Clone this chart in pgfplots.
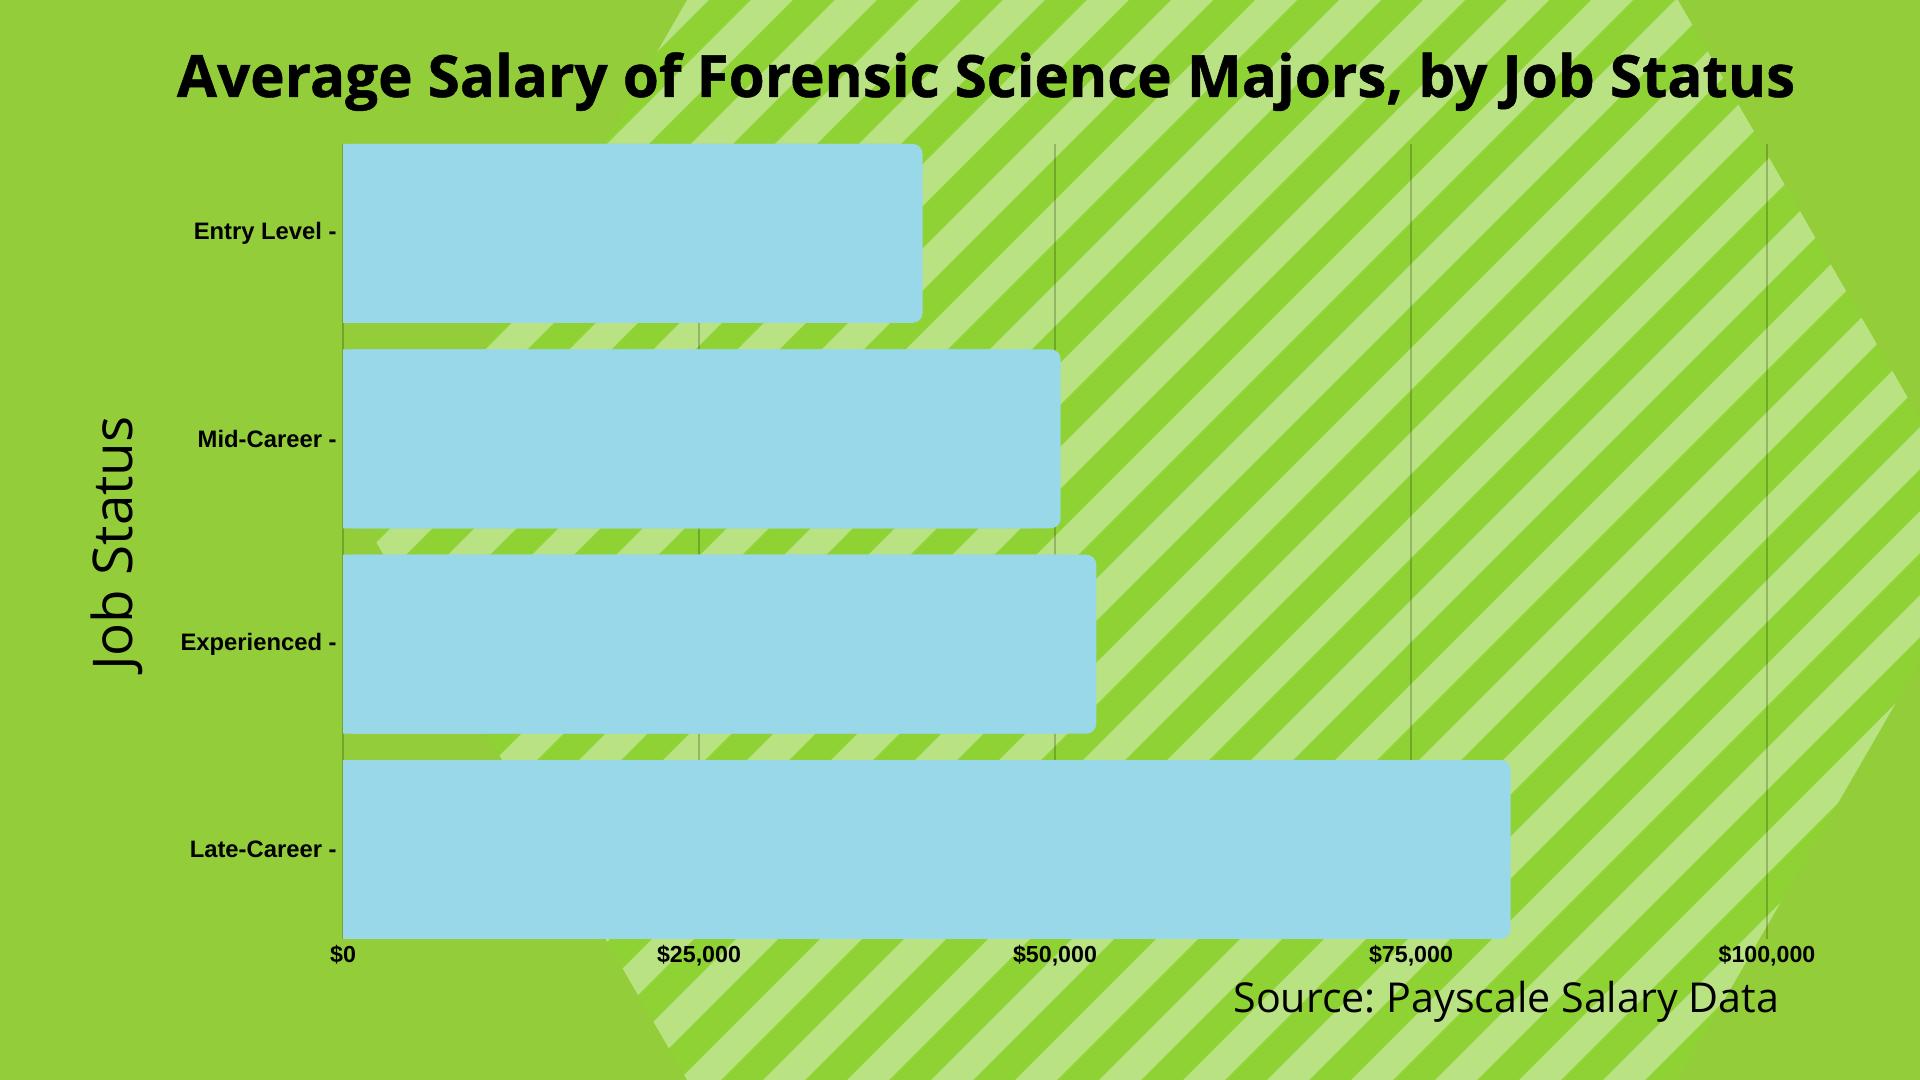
\documentclass[border=0pt]{standalone}
\usepackage{fontspec}
\usepackage{pgfplots}
\pgfplotsset{compat=1.18}
\usepackage{pgfplotstable}

\setmainfont{Open Sans}
\newfontfamily\titlefont[BoldFeatures={FakeBold=0.8}]{Open Sans}
\newfontfamily\labelfont{Liberation Sans}
\frenchspacing

\definecolor{bggreen}{HTML}{93CE3A}
\definecolor{stripedark}{HTML}{8FD234}
\definecolor{stripelight}{HTML}{B9E282}
\definecolor{barblue}{HTML}{98D8E8}

% salary by job status (y position, average salary in $)
\pgfplotstableread{
pos val
3 40700
2 50400
1 52900
0 82000
}\salary

\begin{document}
\begin{tikzpicture}
\useasboundingbox (0,0) rectangle (960pt,540pt);
\clip (0,0) rectangle (960pt,540pt);
\fill[bggreen] (0,0) rectangle (960pt,540pt);

% striped hexagon behind the chart (coordinates in px of a 1920x1080 frame)
\begin{scope}[x=0.5pt,y=0.5pt]
  \clip (375,540) -- (779,1239) -- (1586,1239) -- (1990,540) -- (1586,-159) -- (779,-159) -- cycle;
  \fill[stripedark] (0,-200) rectangle (2100,1300);
  \foreach \k in {-16,...,30}{
    \pgfmathsetmacro\c{-77+84*\k}
    \fill[stripelight] (\c-200,-200) -- (\c+42-200,-200) -- (\c+42+1300,1300) -- (\c+1300,1300) -- cycle;
  }
\end{scope}

\begin{axis}[
  at={(171.5pt,70.5pt)}, anchor=south west,
  scale only axis, width=712pt, height=397.5pt,
  xbar, bar shift=0pt, bar width=89.5pt,
  xmin=0, xmax=100000, ymin=-0.4355, ymax=3.4355,
  axis line style={draw=none}, major tick length=0pt,
  xtick={0,25000,50000,75000,100000},
  xticklabels={\$0,{\$25,000},{\$50,000},{\$75,000},{\$100,000}},
  ytick={0,1,2,3},
  yticklabels={Late-Career -,Experienced -,Mid-Career -,Entry Level -},
  xmajorgrids, grid style={black, opacity=0.2, line width=0.75pt},
  xticklabel style={font=\labelfont\bfseries\fontsize{11.6}{13}\selectfont, inner sep=1pt, yshift=-1.8pt},
  yticklabel style={font=\labelfont\bfseries\fontsize{11.9}{13}\selectfont, inner sep=0pt, xshift=-3pt},
  scaled x ticks=false,
]
  \addplot[fill=barblue, draw=none, rounded corners=5pt] table[x=val, y=pos] {\salary};
  \addplot[fill=barblue, draw=none, xshift=-14pt] table[x=val, y=pos] {\salary};
\end{axis}

\node[anchor=base, font=\titlefont\bfseries\fontsize{29.15}{34}\selectfont] at (493pt,491.5pt)
  {Average Salary of Forensic Science Majors, by Job Status};
\node[anchor=base, rotate=90, inner sep=0pt, font=\fontsize{27.4}{32}\selectfont] at (66pt,268.25pt) {Job Status};
\node[anchor=base west, inner sep=0pt, font=\fontsize{20.6}{25}\selectfont] at (616.5pt,33.5pt) {Source: Payscale Salary Data};
\end{tikzpicture}
\end{document}
